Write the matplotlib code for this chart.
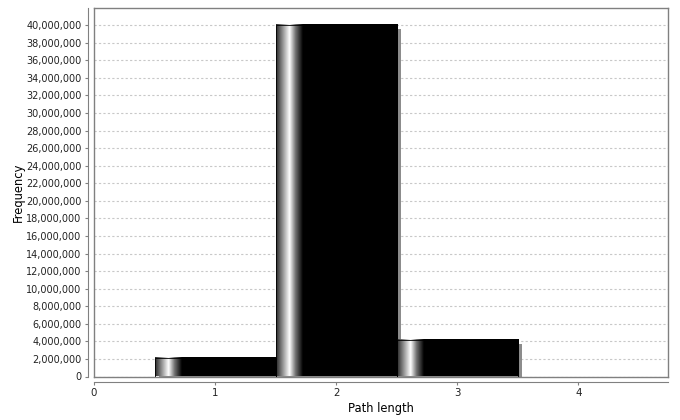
import numpy as np
import matplotlib
matplotlib.use("Agg")
import matplotlib.pyplot as plt
from matplotlib.colors import LinearSegmentedColormap
from matplotlib.ticker import FuncFormatter, MultipleLocator
import matplotlib.transforms as mtransforms

# data
path_length = [1, 2, 3]
frequency = [2.1e6, 40.0e6, 4.1e6]
x_ticks = [0, 1, 2, 3, 4]

fig = plt.figure(figsize=(6.8, 4.2), dpi=100)
W, H = 680.0, 420.0
ax = fig.add_axes([94 / W, (H - 376.5) / H, (668 - 94) / W, (376.5 - 8) / H])

# horizontal gradient like the JFreeChart bar painter
grad_cmap = LinearSegmentedColormap.from_list(
    "bar", [(0.0, "#2a2a2a"), (0.05, "#8a8a8a"), (0.11, "#ffffff"),
            (0.16, "#707070"), (0.22, "#000000"), (1.0, "#000000")])
grad = np.linspace(0, 1, 256).reshape(1, -1)

# shadow, offset 4px right / 4px down
shadow_tr = mtransforms.offset_copy(ax.transData, fig=fig, x=4, y=-4, units="dots")
ax.bar(path_length, frequency, width=1.0, color="#8c8c8c",
       linewidth=0, zorder=2, transform=shadow_tr)

bars = ax.bar(path_length, frequency, width=1.0, color="none",
              edgecolor="#000000", linewidth=0.6, zorder=4)
for b in bars:
    x0, y0 = b.get_x(), b.get_y()
    ax.imshow(grad, cmap=grad_cmap, aspect="auto", interpolation="bilinear",
              extent=[x0, x0 + b.get_width(), y0, y0 + b.get_height()],
              zorder=3)
ax.set_xlim(0, 4.74)
ax.set_ylim(0, 41.95e6)

# grid
ax.yaxis.set_major_locator(MultipleLocator(2e6))
ax.grid(axis="y", color="#c8c8c8", linestyle=(0, (2, 2)), linewidth=0.8)
ax.set_axisbelow(True)
ax.set_xticks(x_ticks)

for s in ax.spines.values():
    s.set_color("#808080")
    s.set_linewidth(1.0)
ax.tick_params(left=False, bottom=False, labelleft=False, labelbottom=False)

# detached axis lines like JFreeChart
ax_y = fig.add_axes(ax.get_position(), sharey=ax)
ax_y.patch.set_visible(False)
ax_y.set_xticks([])
for k in ["top", "right", "bottom"]:
    ax_y.spines[k].set_visible(False)
ax_y.spines["left"].set_position(("outward", 4))
ax_y.spines["left"].set_color("#808080")
ax_y.yaxis.set_major_formatter(FuncFormatter(lambda v, p: "{:,.0f}".format(v)))
ax_y.tick_params(axis="y", length=2, width=0.8, color="#808080",
                 labelsize=7.0, pad=3, labelcolor="#222222")
ax_y.grid(False)

ax_x = fig.add_axes(ax.get_position(), sharex=ax)
ax_x.patch.set_visible(False)
ax_x.set_yticks([])
for k in ["top", "right", "left"]:
    ax_x.spines[k].set_visible(False)
ax_x.spines["bottom"].set_position(("outward", 4))
ax_x.spines["bottom"].set_color("#808080")
ax_x.tick_params(axis="x", length=2, width=0.8, color="#808080",
                 labelsize=7.4, pad=2, labelcolor="#222222")
ax_x.grid(False)

ax_y.set_ylabel("Frequency", fontsize=8.3)
ax_y.yaxis.set_label_coords((25 - 94) / 574.0, 0.5)
ax_x.set_xlabel("Path length", fontsize=8.3, labelpad=3)

fig.savefig("out.png", dpi=100, facecolor="white")
